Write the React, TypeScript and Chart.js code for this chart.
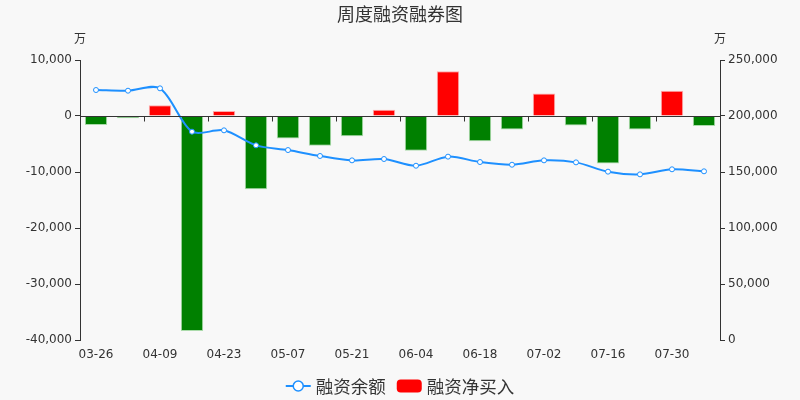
import { useEffect, useRef } from "react"
import { Chart, registerables } from "chart.js"

Chart.register(...registerables)

const weeks = [
  "03-26", "04-02", "04-09", "04-16", "04-23", "04-30", "05-07", "05-14", "05-21", "05-28",
  "06-04", "06-11", "06-18", "06-25", "07-02", "07-09", "07-16", "07-23", "07-30", "08-06",
]

// 融资净买入 (万)
const netBuy = [
  -1600, -400, 1900, -38400, 900, -13100, -4000, -5300, -3600, 1100,
  -6200, 8000, -4500, -2400, 4000, -1700, -8500, -2400, 4500, -1800,
]

// 融资余额 (万)
const balance = [
  223200, 222600, 224700, 186000, 187200, 173800, 169600, 164300, 160400, 161600,
  155600, 163700, 158900, 156500, 160400, 158600, 150300, 147900, 152400, 150600,
]

const leftTicks = { min: -40000, max: 10000, step: 10000 }
const rightTicks = { min: 0, max: 250000, step: 50000 }

const TITLE = "周度融资融券图"
const UNIT = "万"
const LINE_COLOR = "#1E90FF"
const TEXT_COLOR = "#333"
const AXIS_COLOR = "#333"
const FONT = "'DejaVu Sans', 'Noto Sans CJK SC', sans-serif"
const CJK_FONT = "'Noto Sans CJK SC', 'DejaVu Sans', sans-serif"

const fmt = (v: number) => v.toLocaleString("en-US")

// background, title, units, zero axis line and the custom legend
const decorPlugin = {
  id: "decor",
  beforeDraw(chart: any) {
    const { ctx, width, height } = chart
    ctx.save()
    ctx.fillStyle = "#f8f8f8"
    ctx.fillRect(0, 0, width, height)
    ctx.restore()
  },
  afterDatasetsDraw(chart: any) {
    const { ctx, chartArea, scales } = chart
    const y0 = Math.round(scales.y.getPixelForValue(0)) + 0.5
    ctx.save()
    ctx.strokeStyle = AXIS_COLOR
    ctx.lineWidth = 1
    ctx.beginPath()
    ctx.moveTo(chartArea.left, y0)
    ctx.lineTo(chartArea.right, y0)
    const n = weeks.length
    const bw = (chartArea.right - chartArea.left) / n
    for (let i = 2; i < n; i += 2) {
      const x = Math.round(chartArea.left + bw * i) + 0.5
      ctx.moveTo(x, y0)
      ctx.lineTo(x, y0 + 5)
    }
    ctx.stroke()
    ctx.restore()
  },
  afterDraw(chart: any) {
    const { ctx, chartArea, width } = chart
    ctx.save()
    // title
    ctx.fillStyle = TEXT_COLOR
    ctx.font = `18px ${CJK_FONT}`
    ctx.textAlign = "center"
    ctx.textBaseline = "middle"
    ctx.fillText(TITLE, width / 2, 14)
    // units
    ctx.font = `12px ${CJK_FONT}`
    ctx.fillText(UNIT, chartArea.left, 38)
    ctx.fillText(UNIT, chartArea.right, 38)

    // legend
    const labels = chart.data.datasets.map((d: any) => d.label)
    ctx.font = `17.5px ${CJK_FONT}`
    const iconW = 25
    const gap = 5
    const spacing = 11
    const w1 = ctx.measureText(labels[0]).width
    const w2 = ctx.measureText(labels[1]).width
    const total = iconW + gap + w1 + spacing + iconW + gap + w2
    let x = width / 2 - total / 2
    const ly = 386
    ctx.strokeStyle = LINE_COLOR
    ctx.lineWidth = 2
    ctx.beginPath()
    ctx.moveTo(x, ly)
    ctx.lineTo(x + iconW, ly)
    ctx.stroke()
    ctx.beginPath()
    ctx.arc(x + iconW / 2, ly, 5, 0, Math.PI * 2)
    ctx.fillStyle = "#fff"
    ctx.fill()
    ctx.lineWidth = 1.5
    ctx.stroke()
    x += iconW + gap
    ctx.fillStyle = TEXT_COLOR
    ctx.textAlign = "left"
    ctx.fillText(labels[0], x, ly)
    x += w1 + spacing
    ctx.fillStyle = "#ff0000"
    ctx.beginPath()
    ctx.roundRect(x, ly - 6.5, iconW, 13, 4)
    ctx.fill()
    x += iconW + gap
    ctx.fillStyle = TEXT_COLOR
    ctx.fillText(labels[1], x, ly)
    ctx.restore()
  },
}

export default function App() {
  const chartRef = useRef<HTMLCanvasElement>(null)
  const chartInstance = useRef<Chart | null>(null)

  useEffect(() => {
    if (!chartRef.current) return
    if (chartInstance.current) chartInstance.current.destroy()

    const ctx = chartRef.current.getContext("2d")
    if (!ctx) return

    chartInstance.current = new Chart(ctx, {
      type: "bar",
      data: {
        labels: weeks,
        datasets: [
          {
            type: "line",
            label: "融资余额",
            data: balance,
            yAxisID: "y1",
            borderColor: LINE_COLOR,
            borderWidth: 2,
            tension: 0.3,
            pointRadius: 2.5,
            pointBackgroundColor: "#fff",
            pointBorderColor: LINE_COLOR,
            pointBorderWidth: 1,
            order: 0,
          } as any,
          {
            type: "bar",
            label: "融资净买入",
            data: netBuy,
            yAxisID: "y",
            backgroundColor: netBuy.map((v) => (v >= 0 ? "#ff0000" : "#008000")),
            borderColor: netBuy.map((v) => (v >= 0 ? "rgba(255,120,120,0.6)" : "rgba(120,200,120,0.6)")),
            borderWidth: 1,
            barPercentage: 0.7,
            categoryPercentage: 1,
            order: 1,
          },
        ],
      },
      options: {
        responsive: true,
        maintainAspectRatio: false,
        animation: false,
        layout: { padding: { top: 60, bottom: 30, left: 0, right: 0 } },
        scales: {
          x: {
            grid: { display: false, drawTicks: false },
            border: { display: false },
            afterFit: (s: any) => {
              s.height = 30
            },
            ticks: {
              autoSkip: false,
              maxRotation: 0,
              padding: 8,
              color: TEXT_COLOR,
              font: { size: 12, family: FONT },
              callback: (_v: any, i: number) => (i % 2 === 0 ? weeks[i] : ""),
            },
          },
          y: {
            position: "left",
            min: leftTicks.min,
            max: leftTicks.max,
            afterFit: (s: any) => {
              s.width = 80
            },
            grid: { drawOnChartArea: false, tickLength: 5, color: AXIS_COLOR },
            border: { color: AXIS_COLOR, width: 1 },
            ticks: {
              stepSize: leftTicks.step,
              padding: 3,
              color: TEXT_COLOR,
              font: { size: 12, family: FONT },
              callback: (v: any) => fmt(Number(v)),
            },
          },
          y1: {
            position: "right",
            min: rightTicks.min,
            max: rightTicks.max,
            afterFit: (s: any) => {
              s.width = 80
            },
            grid: { drawOnChartArea: false, tickLength: 5, color: AXIS_COLOR },
            border: { color: AXIS_COLOR, width: 1 },
            ticks: {
              stepSize: rightTicks.step,
              padding: 3,
              color: TEXT_COLOR,
              font: { size: 12, family: FONT },
              callback: (v: any) => fmt(Number(v)),
            },
          },
        },
        plugins: {
          legend: { display: false },
          title: { display: false },
          tooltip: { enabled: false },
        },
      },
      plugins: [decorPlugin],
    })

    return () => {
      if (chartInstance.current) {
        chartInstance.current.destroy()
        chartInstance.current = null
      }
    }
  }, [])

  return (
    <div style={{ position: "fixed", left: 0, top: 0, width: 800, height: 400 }}>
      <canvas ref={chartRef}></canvas>
    </div>
  )
}
